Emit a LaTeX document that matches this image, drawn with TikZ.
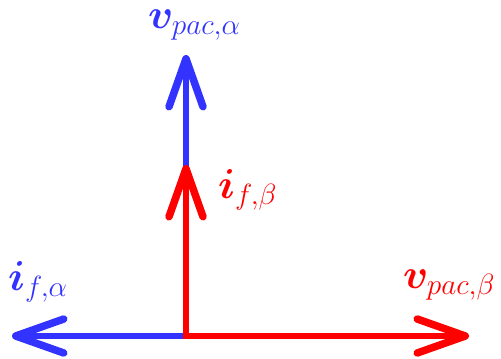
\documentclass[tikz,border=0pt]{standalone}
\usepackage{fix-cm}
\usepackage{amsmath}
\usepackage{bm}
\usetikzlibrary{arrows.meta}
\definecolor{vblue}{RGB}{51,51,255}
\definecolor{vred}{RGB}{255,0,0}
\begin{document}
\begin{tikzpicture}[x=1bp,y=1bp,
  vec/.style={line width=6bp,-{Straight Barb[length=48bp,width=34bp,round,line width=7.5bp 0]}},
  lab/.style={anchor=base west,inner sep=0pt,font=\fontsize{42}{50}\selectfont}]
\useasboundingbox (0,0) rectangle (501,358);
\coordinate (O) at (186,22);
\coordinate (bu) at (186,303);
\coordinate (ru) at (186,193);
\coordinate (bl) at (12,22);
\coordinate (rr) at (469,22);
\draw[vec,vblue] (O) -- (bu);
\draw[vec,vblue] (O) -- (bl);
\draw[vec,vred,line cap=rect] (O) -- (ru);
\draw[vec,vred,line cap=rect] (O) -- (rr);
\node[lab,text=vblue] (lva) at (148,330) {$\bm{v}_{pac,\alpha}$};
\node[lab,text=vred] (lib) at (218,160) {$\bm{i}_{f,\beta}$};
\node[lab,text=vblue] (lia) at (8,68) {$\bm{i}_{f,\alpha}$};
\node[lab,text=vred] (lvb) at (403,70) {$\bm{v}_{pac,\beta}$};
\end{tikzpicture}
\end{document}
